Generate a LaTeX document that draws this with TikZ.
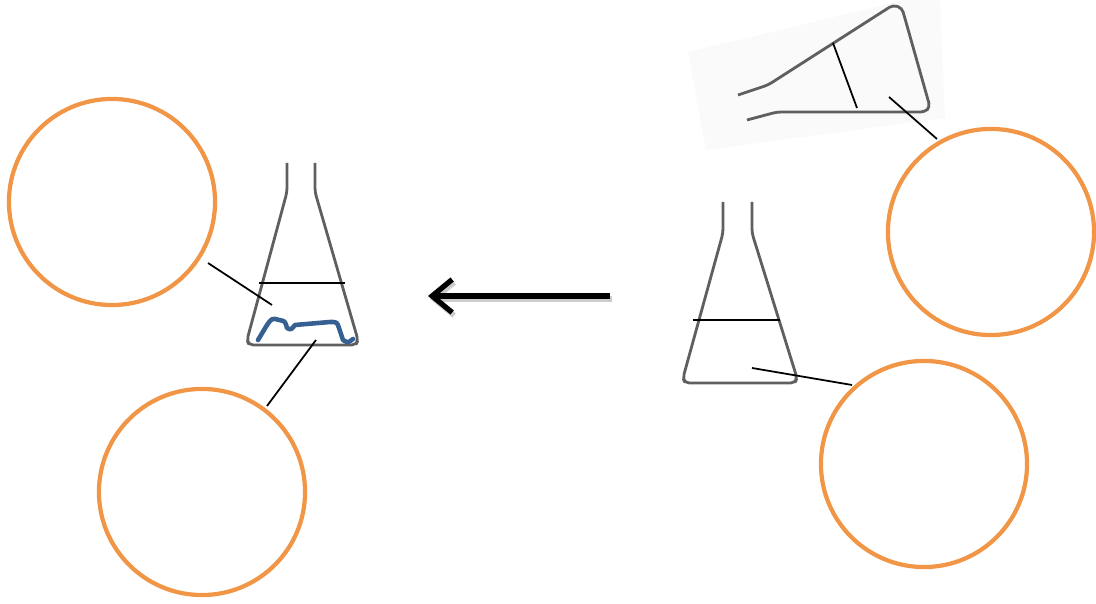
\documentclass[tikz,border=0pt]{standalone}
\usepackage{tikz}
\usetikzlibrary{arrows.meta}

\definecolor{ringorange}{RGB}{241,150,70}
\definecolor{algaeblue}{RGB}{55,96,146}
\definecolor{glassgray}{RGB}{95,95,95}

\tikzset{
  ring/.style={circle, draw=ringorange, line width=1.2pt, minimum size=2.06cm, inner sep=0pt},
  glass/.style={draw=glassgray, line width=0.8pt, rounded corners=1.2pt, line join=round},
  level/.style={draw=black, line width=0.5pt},
  pointer/.style={draw=black, line width=0.5pt}
}

\begin{document}
\begin{tikzpicture}[x=0.01cm,y=-0.01cm]
\useasboundingbox (0,0) rectangle (1096,604);

% circles
\node[ring] (topleft) at (112,202) {};
\node[ring] (botleft) at (202,492) {};
\node[ring] (topright) at (991,232) {};
\node[ring] (botright) at (924,464) {};

% left flask with the algae
\draw[glass] (287,163) -- (287,192) -- (247,340) -- (249,345) -- (356,345) -- (358,340) -- (315,192) -- (315,163);
\draw[level] (259,283) -- (345,283);
\draw[algaeblue, line width=1.3pt, line cap=round, line join=round]
  (258,340) .. controls (262,332) .. (267,325) .. controls (272,318) .. (279,320)
  .. controls (285,321) .. (287,328) .. controls (291,330) .. (295,325)
  -- (330,322) .. controls (337,322) .. (339,328) -- (343,340) .. controls (348,343) .. (353,339);
\coordinate (lmid) at (272,305);
\coordinate (lbot) at (316,340);
\draw[pointer] (208,263) -- (lmid);
\draw[pointer] (267,406) -- (lbot);

% right flask
\draw[glass] (723,202) -- (723,233) -- (683,378) -- (685,383) -- (795,383) -- (797,378) -- (752,233) -- (752,202);
\draw[level] (693,320) -- (780,320);
\coordinate (rbot) at (752,368);
\draw[pointer] (852,385) -- (rbot);

% tilted flask
\fill[black!2] (688,52) -- (905,0) -- (940,0) -- (945,118) -- (706,150) -- cycle;
\draw[glass] (738,95) -- (768,85) -- (893,5) -- (902,8) -- (930,107) -- (925,112) -- (777,112) -- (747,120);
\draw[level] (833,43) -- (857,108);
\coordinate (tmid) at (889,97);
\draw[pointer] (937,139) -- (tmid);

% arrow between the flasks
\coordinate (arrstart) at (610,296);
\coordinate (arrend) at (428,296);
\draw[black!20, line width=1.5pt, -{Straight Barb[length=2mm,width=3.3mm,line width=1.5pt]}] ([shift={(2,3)}]arrstart) -- ([shift={(2,3)}]arrend);
\draw[black, line width=1.5pt, -{Straight Barb[length=2mm,width=3.3mm,line width=1.5pt]}] (arrstart) -- (arrend);
\end{tikzpicture}
\end{document}
